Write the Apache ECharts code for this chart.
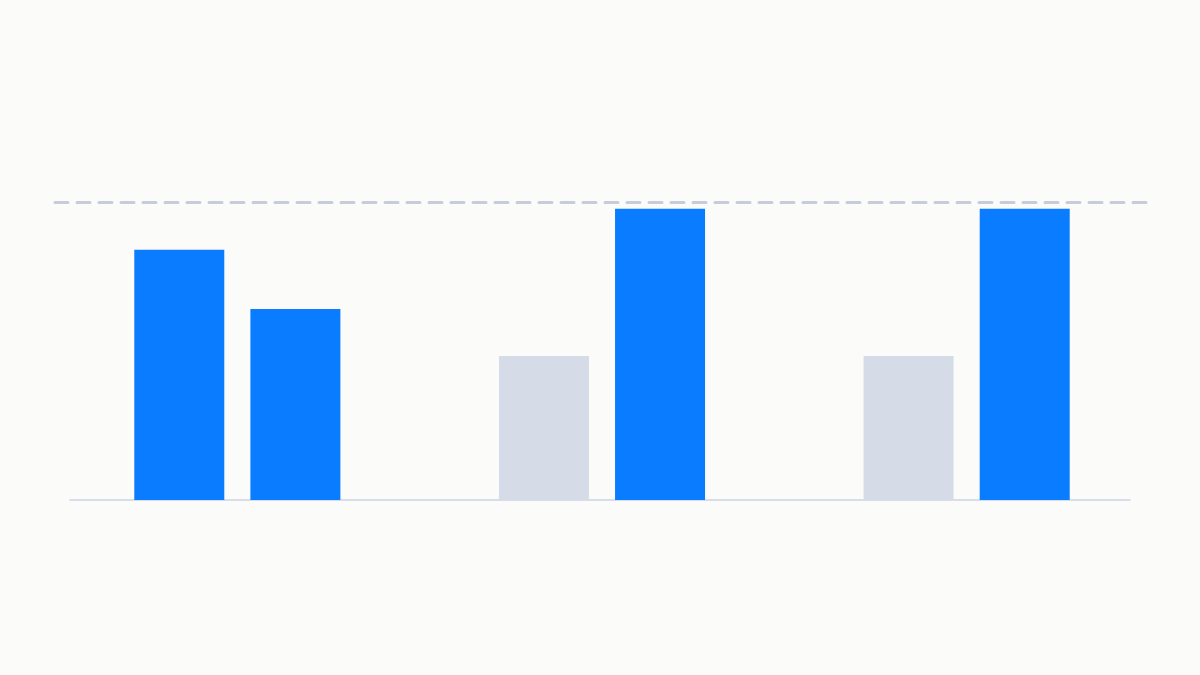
<html>
<head>
    <script src="https://cdn.jsdelivr.net/npm/echarts@6/dist/echarts.min.js"></script>
    <style>
        html, body { margin: 0; padding: 0; background: #fbfbfa; }
        #main { width: 1200px; height: 675px; }
    </style>
</head>
<body>
    <div id="main"></div>
    <script>
        // data
        var categories = ['A', 'B', 'C'];
        var firstBars = [84, 48.3, 48.3];
        var secondBars = [64.1, 97.7, 97.7];
        var firstBarIsBaseline = [false, true, true];
        var targetValue = 100;

        var blue = '#0a7cff';
        var grey = '#d5dce8';

        var myChart = echarts.init(document.getElementById('main'));

        var option = {
            backgroundColor: '#fbfbfa',
            animation: false,
            grid: [
                { left: 55, right: 51, top: 202, bottom: 175 },
                // second grid only for the shorter baseline
                { left: 70, right: 70, top: 202, bottom: 175 }
            ],
            xAxis: [
                {
                    type: 'category',
                    data: categories,
                    gridIndex: 0,
                    axisLine: { show: false },
                    axisTick: { show: false },
                    axisLabel: { show: false }
                },
                {
                    type: 'category',
                    data: categories,
                    gridIndex: 1,
                    axisLine: { show: true, lineStyle: { color: '#cdd3e3', width: 1.5 } },
                    axisTick: { show: false },
                    axisLabel: { show: false }
                }
            ],
            yAxis: [
                { type: 'value', gridIndex: 0, min: 0, max: targetValue, show: false },
                { type: 'value', gridIndex: 1, min: 0, max: targetValue, show: false }
            ],
            series: [
                {
                    type: 'bar',
                    data: firstBars,
                    barWidth: 90,
                    barGap: '29%',
                    itemStyle: {
                        color: function (p) { return firstBarIsBaseline[p.dataIndex] ? grey : blue; }
                    },
                    markLine: {
                        silent: true,
                        symbol: 'none',
                        label: { show: false },
                        lineStyle: { type: [13, 9], color: '#c6ccda', width: 3, cap: 'round' },
                        data: [{ yAxis: targetValue }]
                    }
                },
                {
                    type: 'bar',
                    data: secondBars,
                    barWidth: 90,
                    itemStyle: { color: blue }
                }
            ]
        };

        myChart.setOption(option);
    </script>
</body>
</html>
